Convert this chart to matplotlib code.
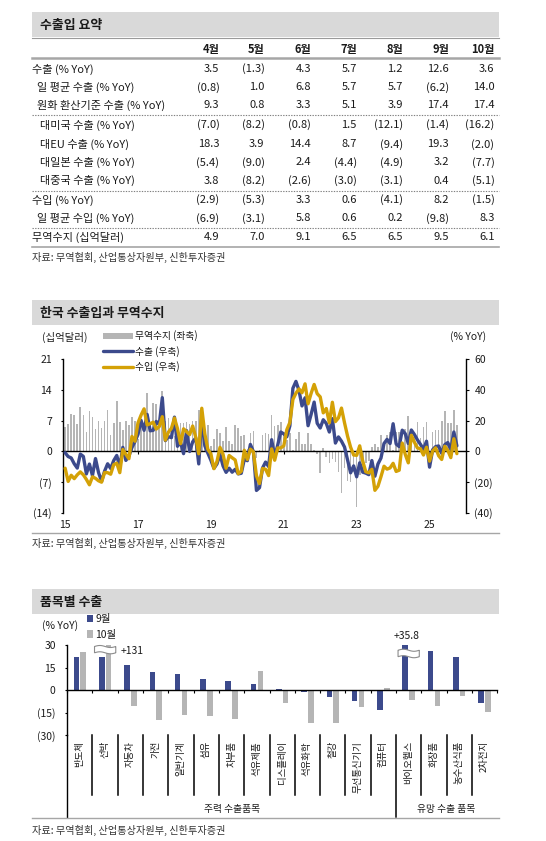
import numpy as np
import matplotlib
matplotlib.use('Agg')
import matplotlib.pyplot as plt
from matplotlib.patches import Rectangle, Patch, Polygon
from matplotlib.lines import Line2D
import matplotlib.transforms as mtransforms
from matplotlib.ticker import FuncFormatter

plt.rcParams['font.family'] = ['Noto Sans CJK KR', 'DejaVu Sans']
plt.rcParams['axes.unicode_minus'] = False

# ------------------------------------------------------------------ data
# Table: 수출입 요약
table_months = ['4월', '5월', '6월', '7월', '8월', '9월', '10월']
row_labels = ['수출 (% YoY)', '일 평균 수출 (% YoY)', '원화 환산기준 수출 (% YoY)',
              '대미국 수출 (% YoY)', '대EU 수출 (% YoY)', '대일본 수출 (% YoY)',
              '대중국 수출 (% YoY)', '수입 (% YoY)', '일 평균 수입 (% YoY)',
              '무역수지 (십억달러)']
exports_yoy = [3.5, -1.3, 4.3, 5.7, 1.2, 12.6, 3.6]
daily_exports = [-0.8, 1.0, 6.8, 5.7, 5.7, -6.2, 14.0]
krw_exports = [9.3, 0.8, 3.3, 5.1, 3.9, 17.4, 17.4]
to_us = [-7.0, -8.2, -0.8, 1.5, -12.1, -1.4, -16.2]
to_eu = [18.3, 3.9, 14.4, 8.7, -9.4, 19.3, -2.0]
to_japan = [-5.4, -9.0, 2.4, -4.4, -4.9, 3.2, -7.7]
to_china = [3.8, -8.2, -2.6, -3.0, -3.1, 0.4, -5.1]
imports_yoy = [-2.9, -5.3, 3.3, 0.6, -4.1, 8.2, -1.5]
daily_imports = [-6.9, -3.1, 5.8, 0.6, 0.2, -9.8, 8.3]
trade_balance = [4.9, 7.0, 9.1, 6.5, 6.5, 9.5, 6.1]

# Monthly series from 2015-01
start_year = 2015
exp_m = [-0.9, -3.4, -4.3, -8.1, -10.9, -1.8, -3.3, -14.7, -8.3, -15.8, -4.7, -13.8,
         -19.6, -12.9, -8.1, -11.2, -6.0, -2.7, -10.2, 2.6, -5.9, -3.2, 2.5, 6.4,
         11.1, 20.2, 13.7, 24.1, 13.4, 13.7, 19.5, 17.4, 35.0, 7.0, 9.6, 8.9,
         22.3, 3.3, 6.1, -1.5, 13.5, -0.1, 6.2, 8.7, -8.2, 22.7, 3.6, -1.2,
         -5.8, -11.1, -8.2, -2.0, -9.5, -13.7, -11.0, -13.6, -11.7, -14.7, -14.3, -5.2,
         -6.1, 4.5, -0.2, -25.5, -23.7, -10.9, -7.0, -9.9, 7.6, -3.6, 4.1, 12.6,
         11.4, 9.5, 16.6, 41.1, 45.6, 39.7, 29.6, 34.9, 16.7, 24.1, 32.1, 18.3,
         15.2, 20.6, 18.2, 12.6, 21.3, 5.4, 9.4, 6.6, 2.8, -5.7, -14.0, -9.5,
         -16.6, -7.5, -13.6, -14.2, -15.2, -6.0, -16.2, -8.3, -4.4, 5.1, 7.8, 5.1,
         18.0, 4.8, 3.1, 13.8, 11.5, 5.1, 13.9, 11.0, 7.5, 4.6, 1.4, 6.6,
         -10.3, 1.0, 3.1, 3.5, -1.3, 4.3, 5.7, 1.2, 12.6, 3.6]
imp_m = [-11.0, -19.6, -15.6, -17.8, -15.3, -13.4, -15.3, -18.3, -21.8, -16.6, -17.6, -19.2,
         -20.1, -13.8, -13.9, -14.9, -8.7, -7.7, -13.9, 1.2, -1.9, -4.8, 9.7, 6.6,
         18.6, 23.6, 27.7, 17.2, 18.0, 19.0, 14.5, 16.2, 22.6, 7.3, 12.5, 15.0,
         21.7, 14.8, 5.0, 14.7, 12.8, 10.9, 16.5, 9.3, -1.6, 28.1, 11.4, 1.3,
         -1.7, -11.3, -6.6, 2.6, -1.9, -11.0, -2.7, -4.2, -5.6, -14.6, -13.0, 0.7,
         -5.3, 1.4, -0.3, -15.9, -21.0, -11.2, -11.7, -15.8, 1.6, -5.8, 2.2, 2.2,
         3.6, 14.1, 18.8, 33.8, 37.9, 40.7, 38.2, 44.0, 31.0, 37.8, 43.6, 37.6,
         35.5, 25.1, 27.9, 18.6, 32.0, 19.4, 21.8, 28.2, 18.6, 9.9, 2.7, -2.4,
         -2.6, 3.6, -6.4, -13.3, -14.0, -11.7, -25.4, -22.8, -16.5, -9.7, -11.6, -10.8,
         -7.8, -13.1, -12.3, 5.4, -2.0, -7.5, 10.5, 6.0, 2.2, 1.7, -2.4, 2.7,
         -6.4, 0.1, 2.3, -2.9, -5.3, 3.3, 0.6, -4.1, 8.2, -1.5]
bal_m = [5.5, 6.3, 8.5, 8.4, 6.3, 10.2, 8.3, 4.4, 9.1, 7.9, 5.0, 6.9,
         5.3, 7.0, 9.5, 3.8, 6.4, 11.5, 6.8, 4.9, 6.9, 6.1, 7.9, 6.9,
         2.9, 7.1, 6.2, 13.2, 6.2, 11.0, 10.9, 6.6, 13.8, 7.0, 7.5, 5.9,
         3.6, 3.3, 6.5, 6.5, 6.6, 6.2, 7.0, 6.9, 9.5, 6.7, 5.1, 5.9,
         1.3, 2.9, 5.2, 4.1, 2.3, 5.6, 2.4, 1.7, 6.0, 5.4, 3.4, 3.8,
         0.5, 4.1, 4.6, -1.5, 0.3, 3.7, 4.2, 4.0, 8.3, 5.8, 5.9, 6.8,
         3.8, 2.7, 4.2, 0.2, 2.9, 4.4, 1.7, 1.7, 4.2, 1.7, 0.4, -0.5,
         -4.9, 0.8, -1.4, -2.6, -1.7, -2.5, -4.8, -9.5, -3.8, -6.7, -7.0, -4.7,
         -12.7, -5.3, -4.6, -2.6, -2.1, 1.1, 1.6, 0.9, 3.7, 1.6, 3.8, 4.5,
         0.3, 4.3, 4.3, 1.5, 5.0, 8.0, 3.6, 3.8, 6.7, 3.1, 5.6, 6.6,
         -2.0, 4.3, 4.9, 4.9, 7.0, 9.1, 6.5, 6.5, 9.5, 6.1]
year_ticks = [2015, 2017, 2019, 2021, 2023, 2025]
line_legend = ['무역수지 (좌축)', '수출 (우축)', '수입 (우축)']

# 품목별 수출
items = ['반도체', '선박', '자동차', '가전', '일반기계', '섬유', '차부품', '석유제품',
         '디스플레이', '석유화학', '철강', '무선통신기기', '컴퓨터', '바이오헬스',
         '화장품', '농수산식품', '2차전지']
sep_yoy = [22.2, 22.2, 16.9, 12.2, 10.4, 7.1, 6.0, 3.8, 0.7, -1.1, -4.4, -7.1, -13.6,
           35.8, 26.2, 21.8, -8.9]
oct_yoy = [25.6, 131.0, -10.9, -20.0, -16.4, -17.1, -19.1, 12.7, -8.9, -22.2, -21.8,
           -11.1, 1.6, -6.7, -10.9, -4.0, -14.4]
item_series = ['9월', '10월']
item_groups = ['주력 수출품목', '유망 수출 품목']
group_sizes = [13, 4]

source_text = '자료: 무역협회, 산업통상자원부, 신한투자증권'

# ------------------------------------------------------------------ style
W, H = 546, 841
fig = plt.figure(figsize=(W / 100, H / 100), dpi=100)
fig.patch.set_facecolor('white')


def fx(x):
    return x / W


def fy(y):
    return 1 - y / H


TXT = '#1a1a1a'
NAVY = '#3C4A8C'
GOLD = '#D4A106'
GRAY = '#B5B5B5'
BAND = '#D9D9D9'
RULE = '#A6A6A6'
XL, XR = 32.4, 499.0


def band(y0, y1, title):
    fig.add_artist(Rectangle((fx(XL), fy(y1)), fx(XR) - fx(XL), fy(y0) - fy(y1),
                             transform=fig.transFigure, facecolor=BAND,
                             edgecolor='none', zorder=0))
    fig.text(fx(40), fy((y0 + y1) / 2 + 0.5), title, fontsize=9.3, fontweight='bold',
             ha='left', va='center', color=TXT)


def hline(y, x0=XL, x1=XR, **kw):
    fig.add_artist(Line2D([fx(x0), fx(x1)], [fy(y), fy(y)],
                          transform=fig.transFigure, **kw))


def paren(v):
    return f'({abs(v):.1f})' if v < 0 else f'{v:.1f}'


def paren_tick(v, pos=None):
    return f'({abs(v):g})' if v < 0 else f'{v:g}'


# ------------------------------------------------------------------ table
band(11.7, 37.3, '수출입 요약')
hline(37.6, color='#9A9A9A', lw=0.8)
col_right = [219.4, 264.6, 310.9, 356.9, 402.9, 449.2, 494.4]
for m, xr in zip(table_months, col_right):
    fig.text(fx(xr), fy(49.3), m, fontsize=8, fontweight='bold', ha='right',
             va='center', color=TXT)
hline(58.3, color=RULE, lw=1.8)

table_data = [exports_yoy, daily_exports, krw_exports, to_us, to_eu, to_japan,
              to_china, imports_yoy, daily_imports, trade_balance]
row_y = [69, 87.3, 105, 125, 144.3, 162.3, 180.7, 200, 218.3, 237.3]
row_x = [32.4, 36.6, 36.6, 40.4, 40.4, 40.4, 40.4, 32.4, 36.6, 32.4]
for lab, vals, y, x in zip(row_labels, table_data, row_y, row_x):
    fig.text(fx(x), fy(y), lab, fontsize=8, ha='left', va='center', color=TXT)
    for v, xr in zip(vals, col_right):
        fig.text(fx(xr), fy(y), paren(v), fontsize=8, ha='right', va='center',
                 color=TXT)
for y in [114.7, 190.7, 228.3]:
    hline(y, color='#808080', lw=0.8, linestyle=(0, (1.2, 1.2)))
hline(247.3, color=RULE, lw=1.2)
fig.text(fx(32.4), fy(257.5), source_text, fontsize=7.3, ha='left', va='center',
         color='#333333')

# ------------------------------------------------------------------ middle chart
band(300, 325, '한국 수출입과 무역수지')
AX_L, AX_R, AX_T, AX_B = 63.3, 466.0, 359.3, 512.7
ax = fig.add_axes([fx(AX_L), fy(AX_B), (AX_R - AX_L) / W, (AX_B - AX_T) / H])
ax2 = ax.twinx()

t = start_year + np.arange(len(exp_m)) / 12.0
ax.bar(t, bal_m, width=0.045, color=GRAY, zorder=1, linewidth=0)
ax.set_xlim(2014.95, 2026.0)
ax.set_ylim(-14, 21)
ax.set_yticks([-14, -7, 0, 7, 14, 21])
ax.yaxis.set_major_formatter(FuncFormatter(paren_tick))
ax2.set_ylim(-40, 60)
ax2.set_yticks([-40, -20, 0, 20, 40, 60])
ax2.yaxis.set_major_formatter(FuncFormatter(paren_tick))

l_exp, = ax2.plot(t, exp_m, color=NAVY, lw=2.4, solid_joinstyle='round',
                  solid_capstyle='round', zorder=3)
l_imp, = ax2.plot(t, imp_m, color=GOLD, lw=2.4, solid_joinstyle='round',
                  solid_capstyle='round', zorder=4)

for s in ['top', 'right']:
    ax.spines[s].set_visible(False)
ax.spines['bottom'].set_position(('data', 0))
ax.spines['bottom'].set_color('black')
ax.spines['bottom'].set_linewidth(1.0)
ax.spines['left'].set_color('black')
ax.spines['left'].set_linewidth(1.0)
for s in ['top', 'left', 'bottom']:
    ax2.spines[s].set_visible(False)
ax2.spines['right'].set_color('black')
ax2.spines['right'].set_linewidth(1.0)

ax.set_xticks(year_ticks)
ax.set_xticklabels([str(y)[2:] for y in year_ticks])
ax.tick_params(axis='x', direction='out', length=2.2, width=0.8, pad=47,
               labelsize=7.5, labelcolor=TXT)
ax.tick_params(axis='y', direction='out', length=1.8, width=0.8, pad=6.5,
               labelsize=7.5, labelcolor=TXT)
ax2.tick_params(axis='y', direction='out', length=1.8, width=0.8, pad=4.2,
                labelsize=7.5, labelcolor=TXT)
ax.patch.set_visible(False)

fig.text(fx(41.8), fy(337), '(십억달러)', fontsize=7.5, ha='left', va='center',
         color=TXT)
fig.text(fx(485.7), fy(337), '(% YoY)', fontsize=7.5, ha='right', va='center',
         color=TXT)
ax2.legend([Patch(facecolor=GRAY, edgecolor='none'), l_exp, l_imp], line_legend,
           loc='upper left', bbox_to_anchor=(fx(103.4), fy(330.5)),
           bbox_transform=fig.transFigure, frameon=False, fontsize=7,
           handlelength=3.0, handleheight=0.55, handletextpad=0.25,
           labelspacing=0.45, borderpad=0, borderaxespad=0, labelcolor=TXT)

hline(533.3, color=RULE, lw=1.0)
fig.text(fx(32.4), fy(543.5), source_text, fontsize=7.3, ha='left', va='center',
         color='#333333')

# ------------------------------------------------------------------ bottom chart
band(589, 614, '품목별 수출')
BL, BR, BT, BB = 67.2, 497.2, 645.0, 735.0
ax3 = fig.add_axes([fx(BL), fy(BB), (BR - BL) / W, (BB - BT) / H])
x = np.arange(len(items))
bw = 0.22
ax3.bar(x - 0.135, sep_yoy, bw, color=NAVY, zorder=2, linewidth=0)
ax3.bar(x + 0.135, oct_yoy, bw, color=GRAY, zorder=2, linewidth=0)
ax3.set_xlim(-0.5, len(items) - 0.5)
ax3.set_ylim(-30, 30)
ax3.set_yticks([-30, -15, 0, 15, 30])
ax3.yaxis.set_major_formatter(FuncFormatter(paren_tick))
ax3.set_xticks(np.arange(-0.5, len(items), 1.0))
ax3.set_xticklabels([])
for s in ['top', 'right']:
    ax3.spines[s].set_visible(False)
ax3.spines['bottom'].set_position(('data', 0))
ax3.spines['bottom'].set_color('black')
ax3.spines['bottom'].set_linewidth(1.0)
ax3.spines['left'].set_color('black')
ax3.spines['left'].set_linewidth(1.0)
ax3.tick_params(axis='x', direction='out', length=2.0, width=0.8)
ax3.tick_params(axis='y', direction='out', length=1.8, width=0.8, pad=6.5,
                labelsize=7.5, labelcolor=TXT)
ax3.patch.set_visible(False)

blend = mtransforms.blended_transform_factory(ax3.transData, ax3.transAxes)


def ay(ypx):
    return (BB - ypx) / (BB - BT)


for i, name in enumerate(items):
    ax3.text(i, ay(741.0), name, rotation=90, ha='center', va='top',
             fontsize=6.8, color=TXT, transform=blend)

bounds = np.cumsum(group_sizes)[:-1] - 0.5
for b in np.arange(0.5, len(items) - 0.5, 1.0):
    bottom = 817 if np.any(np.isclose(bounds, b)) else 795
    ax3.plot([b, b], [ay(735), ay(bottom)], color='black', lw=1.1,
             transform=blend, clip_on=False)
ax3.plot([-0.5, -0.5], [ay(735), ay(817)], color='black', lw=1.0,
         transform=blend, clip_on=False)
g0 = 0
for g, n in zip(item_groups, group_sizes):
    ax3.text(g0 + (n - 1) / 2, ay(809), g, ha='center', va='center',
             fontsize=7, color=TXT, transform=blend)
    g0 += n


def draw_break(xc, ylo, yhi, half=0.42):
    xs = np.linspace(xc - half, xc + half, 40)
    ph = (xs - (xc - half)) / (2 * half)
    wave = (yhi - ylo) * 0.16 * np.sin(ph * 2 * np.pi)
    top = yhi + wave
    bot = ylo + wave
    pts = np.column_stack([np.r_[xs, xs[::-1]], np.r_[top, bot[::-1]]])
    ax3.add_patch(Polygon(pts, closed=True, facecolor='white', edgecolor='#8C8C8C',
                          lw=0.8, zorder=5, clip_on=False))


draw_break(1, 24.8, 29.0)
draw_break(13, 22.2, 26.5)
ax3.text(1.62, 25.8, f'+{oct_yoy[1]:g}', ha='left', va='center', fontsize=7.5,
         color=TXT)
ax3.text(12.9, 36.2, f'+{sep_yoy[13]:g}', ha='center', va='center', fontsize=7.5,
         color=TXT, clip_on=False)

fig.text(fx(41.8), fy(626), '(% YoY)', fontsize=7.5, ha='left', va='center',
         color=TXT)
ax3.legend([Patch(facecolor=NAVY, edgecolor='none'),
            Patch(facecolor=GRAY, edgecolor='none')], item_series,
           loc='upper left', bbox_to_anchor=(fx(87), fy(614.0)),
           bbox_transform=fig.transFigure, frameon=False, fontsize=7.5,
           handlelength=0.55, handleheight=0.75, handletextpad=0.25,
           labelspacing=0.55, borderpad=0, borderaxespad=0, labelcolor=TXT)

hline(818.3, color=RULE, lw=1.0)
fig.text(fx(32.4), fy(830), source_text, fontsize=7.3, ha='left', va='center',
         color='#333333')

fig.savefig('out.png', dpi=100, facecolor='white')
